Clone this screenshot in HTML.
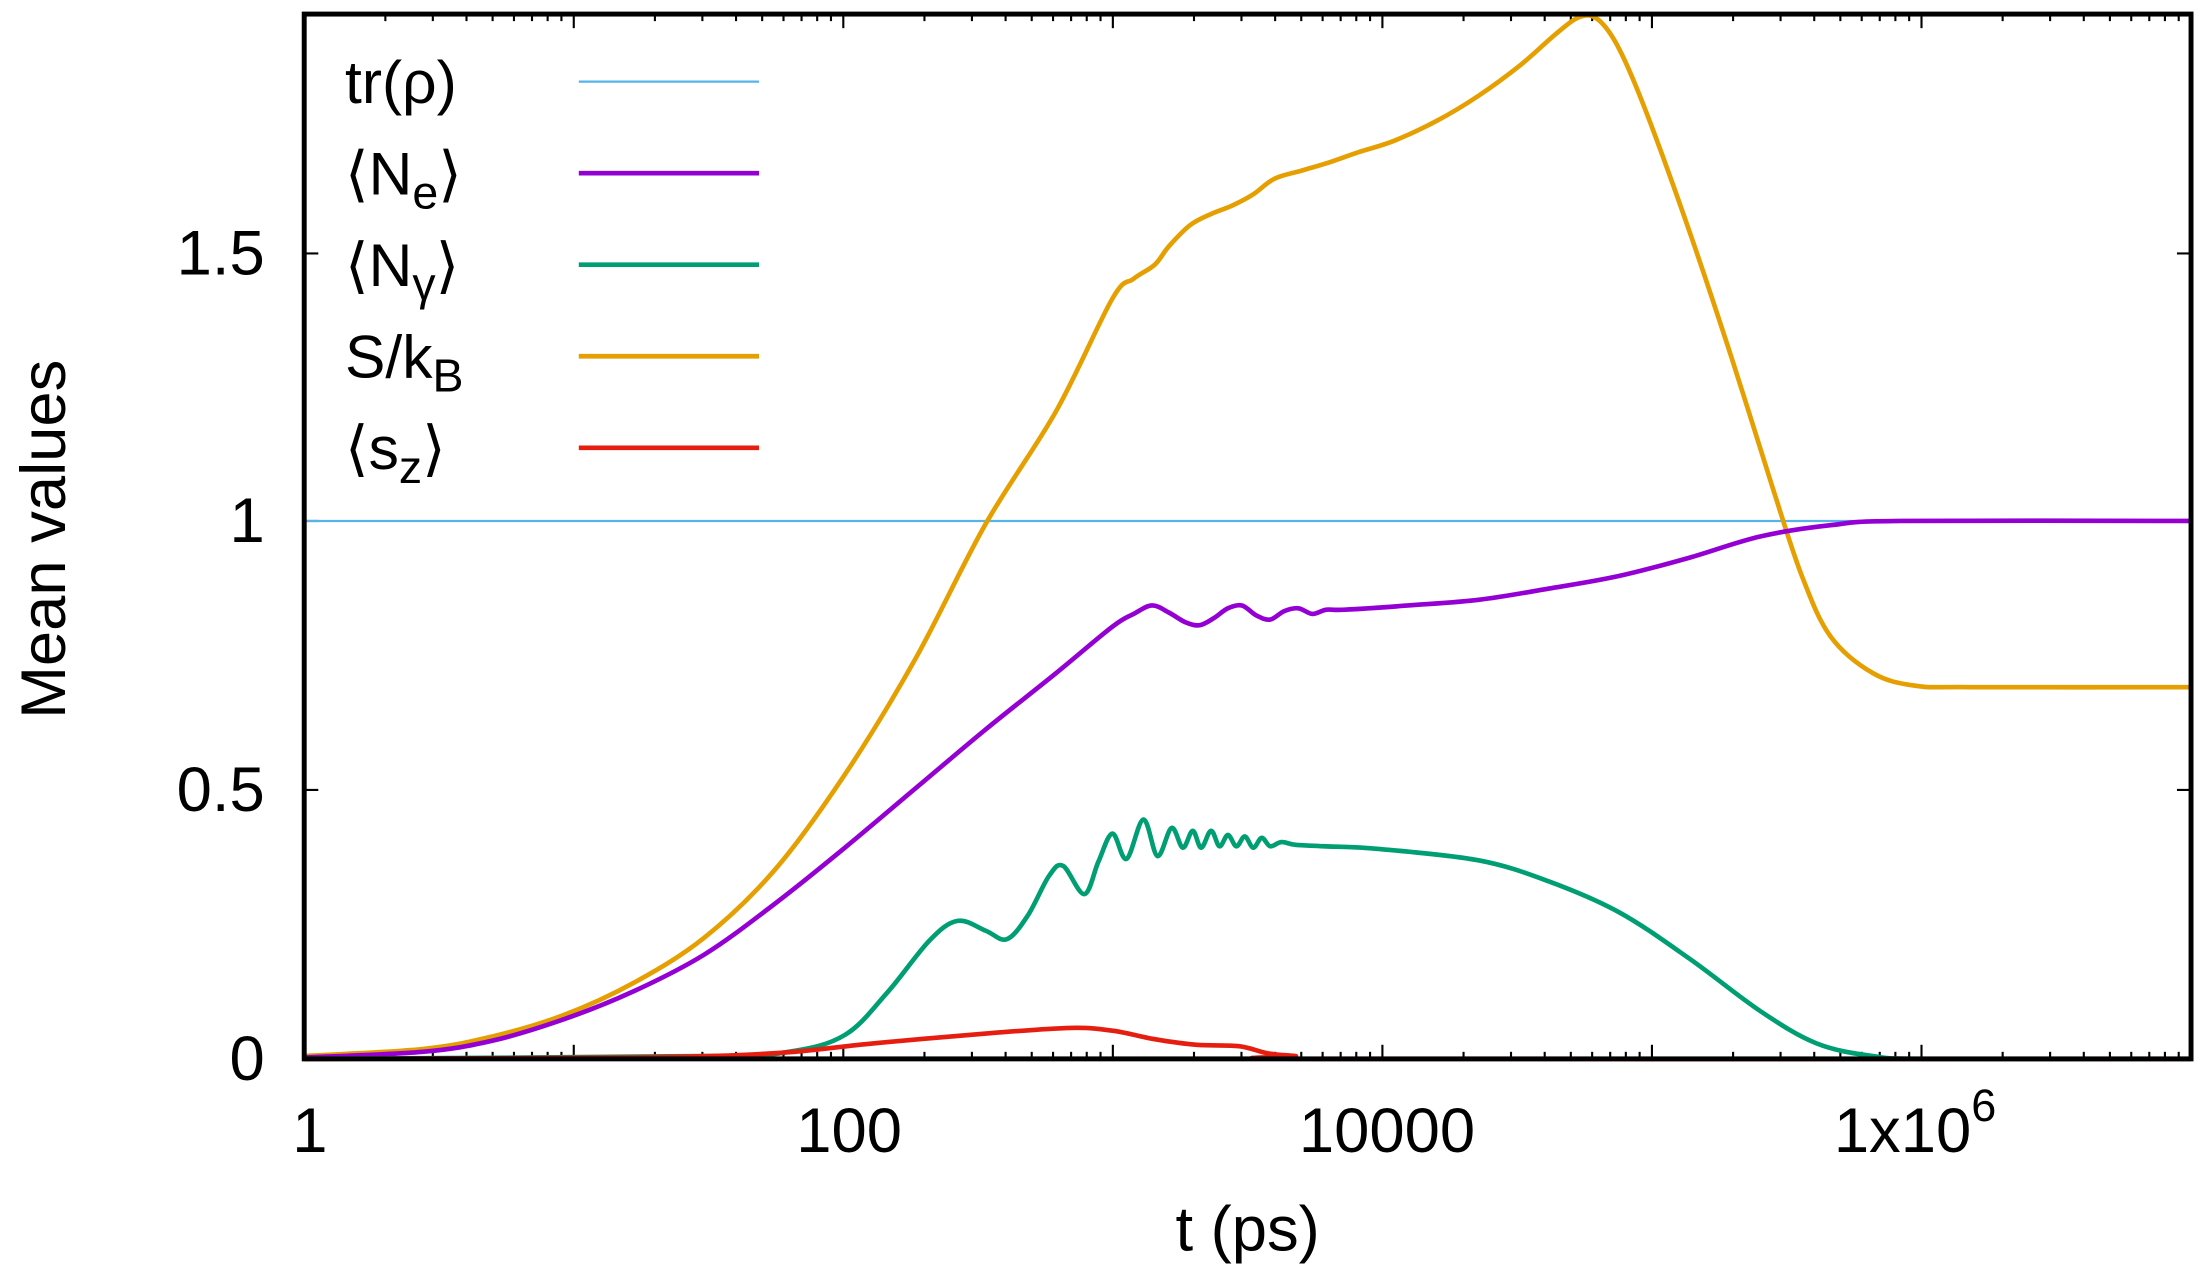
<!DOCTYPE html>
<html><head><meta charset="utf-8"><style>
html,body{margin:0;padding:0;background:#fff}
svg{display:block}
text{font-family:"Liberation Sans",sans-serif;fill:#000}
</style></head><body>
<svg id="s" width="2208" height="1276" viewBox="0 0 1568 906.2" xmlns="http://www.w3.org/2000/svg">
<g id="ticks" stroke="#000" stroke-width="1.5"></g>
<line x1="216" y1="370" x2="1556" y2="370" stroke="#56b4e9" stroke-width="1.6"/>
<path id="S" fill="none" stroke="#e69f00" stroke-width="3.3"/>
<path id="Ne" fill="none" stroke="#9400d3" stroke-width="3.3"/>
<path id="Ng" fill="none" stroke="#009e73" stroke-width="3.3"/>
<path id="Sz" fill="none" stroke="#e51e10" stroke-width="3.3"/>
<rect x="216" y="10" width="1340" height="742" fill="none" stroke="#000" stroke-width="3.5"/>
<g font-size="45" text-anchor="end">
<text x="188" y="767">0</text>
<text x="188" y="576">0.5</text>
<text x="188" y="385">1</text>
<text x="188" y="195">1.5</text>
</g>
<g font-size="45" text-anchor="middle">
<text x="220" y="818">1</text>
<text x="603" y="818">100</text>
<text x="985" y="818">10000</text>
<text x="1360" y="818">1x10<tspan font-size="32" dy="-22">6</tspan></text>
<text x="886" y="888">t (ps)</text>
</g>
<text font-size="45" text-anchor="middle" transform="translate(46,383) rotate(-90)">Mean values</text>
<g font-size="43">
<text x="245" y="73">tr(ρ)</text>
<text x="245" y="138">⟨N<tspan font-size="33" dy="10">e</tspan><tspan dy="-10">⟩</tspan></text>
<text x="245" y="203">⟨N<tspan font-size="33" dy="10">γ</tspan><tspan dy="-10">⟩</tspan></text>
<text x="245" y="268">S/k<tspan font-size="33" dy="10">B</tspan></text>
<text x="245" y="333">⟨s<tspan font-size="33" dy="10">z</tspan><tspan dy="-10">⟩</tspan></text>
</g>
<line x1="411" y1="58" x2="539" y2="58" stroke="#56b4e9" stroke-width="1.6"/>
<line x1="411" y1="123" x2="539" y2="123" stroke="#9400d3" stroke-width="3.3"/>
<line x1="411" y1="188" x2="539" y2="188" stroke="#009e73" stroke-width="3.3"/>
<line x1="411" y1="253" x2="539" y2="253" stroke="#e69f00" stroke-width="3.3"/>
<line x1="411" y1="318" x2="539" y2="318" stroke="#e51e10" stroke-width="3.3"/>
</svg>
<script>
function smooth(p){let d="M"+p[0][0]+","+p[0][1];for(let i=0;i<p.length-1;i++){const a=p[i-1]||p[i],b=p[i],c=p[i+1],e=p[i+2]||c;
d+=" C"+(b[0]+(c[0]-a[0])/6).toFixed(1)+","+(b[1]+(c[1]-a[1])/6).toFixed(1)+" "+(c[0]-(e[0]-b[0])/6).toFixed(1)+","+(c[1]-(e[1]-b[1])/6).toFixed(1)+" "+c[0]+","+c[1];}return d;}
const S=[[216,750],[300,745],[350,736],[400,721],[450,698],[500,666],[550,618],[600,550],[650,468],[700,372],[750,292],[790,212],[805,198],[820,188],[830,175],[845,160],[860,152],[875,146],[890,138],[905,127],[925,121],[945,115],[965,108],[990,100],[1020,86],[1050,68],[1080,46],[1105,24],[1122,12],[1135,14],[1150,35],[1170,82],[1200,165],[1230,255],[1260,350],[1280,410],[1300,452],[1330,478],[1360,487],[1400,488],[1556,488]];
const Ne=[[216,751],[300,747],[350,739],[400,724],[450,704],[500,678],[550,642],[600,602],[650,560],[700,518],[750,478],[790,445],[805,436],[818,430],[830,435],[842,442],[852,444],[862,439],[872,432],[882,430],[892,437],[902,440],[912,434],[922,432],[932,436],[942,433],[955,433],[1000,430],[1050,426],[1100,418],[1150,409],[1200,396],[1250,381],[1300,373],[1350,370],[1556,370]];
const Ng=[[216,752],[500,750],[560,747],[600,735],[630,705],[660,668],[680,654],[700,661],[715,667],[730,650],[745,622],[755,615],[770,635],[780,612],[790,592],[800,610],[812,582],[822,608],[832,588],[840,602],[847,590],[853,602],[860,590],[866,601],[872,593],[878,601],[884,594],[890,602],[896,595],[902,601],[910,598],[920,600],[940,601],[980,603],[1050,611],[1100,626],[1150,648],[1200,681],[1250,718],[1290,741],[1330,750],[1370,752],[1556,752]];
const Sz=[[216,752],[450,751],[550,748],[620,741],[700,734],[760,730],[790,732],[820,738],[850,742],[880,743],[900,748],[920,750],[940,752],[1556,752]];
document.getElementById("S").setAttribute("d",smooth(S));
document.getElementById("Ne").setAttribute("d",smooth(Ne));
document.getElementById("Ng").setAttribute("d",smooth(Ng));
document.getElementById("Sz").setAttribute("d",smooth(Sz));
let t="";const L=216,dec=191.43;
for(let k=0;k<7;k++)for(let m=1;m<10;m++){const x=L+dec*(k+Math.log10(m));const len=m==1?10:5;
t+=`<line x1="${x}" y1="752" x2="${x}" y2="${752-len}"/><line x1="${x}" y1="10" x2="${x}" y2="${10+len}"/>`;}
for(const y of [752,561,370,180]){t+=`<line x1="216" y1="${y}" x2="226" y2="${y}"/><line x1="1556" y1="${y}" x2="1546" y2="${y}"/>`;}
document.getElementById("ticks").innerHTML=t;
</script>
</body></html>
